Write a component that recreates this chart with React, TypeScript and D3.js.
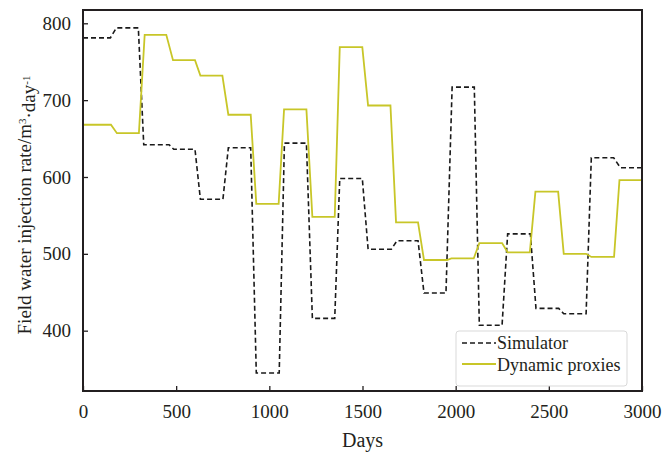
import React, { useEffect, useRef } from "react";
import * as d3 from "d3";

// simulator (dashed black)
const simDays = [0, 147, 179, 297, 326, 462, 487, 601, 630, 751, 780, 900, 930, 1053, 1081, 1199, 1231, 1351, 1378, 1499, 1530, 1655, 1685, 1798, 1830, 1948, 1981, 2100, 2127, 2249, 2279, 2401, 2431, 2553, 2580, 2700, 2728, 2848, 2884, 3000];
const simRate = [781, 781, 794, 794, 642, 642, 636, 636, 571, 571, 638, 638, 345, 345, 644, 644, 416, 416, 598, 598, 506, 506, 517, 517, 449, 449, 717, 717, 407, 407, 526, 526, 429, 429, 422, 422, 625, 625, 612, 612];

// dynamic proxies (yellow solid)
const proxyDays = [0, 150, 182, 300, 331, 447, 483, 601, 630, 748, 780, 900, 930, 1050, 1079, 1199, 1231, 1351, 1378, 1499, 1530, 1650, 1680, 1798, 1830, 1954, 1977, 2097, 2127, 2249, 2279, 2398, 2428, 2550, 2580, 2700, 2728, 2850, 2879, 3000];
const proxyRate = [668, 668, 657, 657, 785, 785, 752, 752, 732, 732, 681, 681, 565, 565, 688, 688, 548, 548, 769, 769, 693, 693, 541, 541, 492, 492, 494, 494, 514, 514, 502, 502, 581, 581, 500, 500, 496, 496, 596, 596];

const xTicks = [0, 500, 1000, 1500, 2000, 2500, 3000];
const yTicks = [400, 500, 600, 700, 800];

const App = () => {
  const chart = useRef<SVGSVGElement>(null);

  useEffect(() => {
    const svg = d3.select(chart.current);
    svg.selectAll("*").remove();

    const left = 83, right = 642, top = 10, bottom = 391;
    const axisColor = "#231f20";
    const font = "'Liberation Serif', 'Times New Roman', serif";

    const x = d3.scaleLinear().domain([0, 3000]).range([left, right]);
    const y = d3.scaleLinear().domain([321.5, 817.3]).range([bottom, top]);

    const line = d3
      .line<[number, number]>()
      .x((d) => x(d[0]))
      .y((d) => y(d[1]));

    const sim = simDays.map((d, i) => [d, simRate[i]] as [number, number]);
    const proxy = proxyDays.map((d, i) => [d, proxyRate[i]] as [number, number]);

    svg
      .append("path")
      .attr("d", line(sim))
      .attr("fill", "none")
      .attr("stroke", "#1a1a1a")
      .attr("stroke-width", 1.6)
      .attr("stroke-dasharray", "5,3");

    svg
      .append("path")
      .attr("d", line(proxy))
      .attr("fill", "none")
      .attr("stroke", "#c8c628")
      .attr("stroke-width", 1.8);

    // axes, ticks pointing inward
    const fmt = d3.format("d");
    const xAxis = d3.axisBottom(x).tickValues(xTicks).tickFormat(fmt).tickSizeInner(-5).tickSizeOuter(0).tickPadding(14);
    const yAxis = d3.axisLeft(y).tickValues(yTicks).tickFormat(fmt).tickSizeInner(-5).tickSizeOuter(0).tickPadding(12);

    const gx = svg.append("g").attr("transform", `translate(0, ${bottom})`).call(xAxis);
    const gy = svg.append("g").attr("transform", `translate(${left}, 0)`).call(yAxis);
    [gx, gy].forEach((g) => {
      g.select(".domain").remove();
      g.selectAll("line").attr("stroke", axisColor).attr("stroke-width", 1.3);
      g.selectAll("text")
        .attr("fill", axisColor)
        .style("font-family", font)
        .style("font-size", "19px");
    });
    gx.selectAll("text").attr("dy", "0.71em");

    // frame
    svg
      .append("rect")
      .attr("x", left)
      .attr("y", top)
      .attr("width", right - left)
      .attr("height", bottom - top)
      .attr("fill", "none")
      .attr("stroke", axisColor)
      .attr("stroke-width", 2);

    // axis titles
    svg
      .append("text")
      .attr("x", (left + right) / 2)
      .attr("y", 447)
      .attr("text-anchor", "middle")
      .attr("fill", axisColor)
      .style("font-family", font)
      .style("font-size", "20px")
      .text("Days");

    const yl = svg
      .append("text")
      .attr("transform", `translate(31, 205) rotate(-90)`)
      .attr("text-anchor", "middle")
      .attr("fill", axisColor)
      .style("font-family", font)
      .style("font-size", "19px");
    yl.append("tspan").text("Field water injection rate/m");
    yl.append("tspan").attr("dy", "-0.5em").style("font-size", "11px").text("3");
    yl.append("tspan").attr("dy", "0.5em").text("·day");
    yl.append("tspan").attr("dy", "-0.5em").style("font-size", "11px").text("-1");

    // legend
    const lg = svg.append("g");
    lg.append("rect")
      .attr("x", 456)
      .attr("y", 331)
      .attr("width", 171)
      .attr("height", 55)
      .attr("rx", 3)
      .attr("fill", "#fff")
      .attr("stroke", "#d9d9d9");
    lg.append("line")
      .attr("x1", 462).attr("x2", 496).attr("y1", 343).attr("y2", 343)
      .attr("stroke", "#1a1a1a").attr("stroke-width", 1.6).attr("stroke-dasharray", "5,3");
    lg.append("line")
      .attr("x1", 462).attr("x2", 496).attr("y1", 364).attr("y2", 364)
      .attr("stroke", "#c8c628").attr("stroke-width", 1.8);
    lg.append("text").attr("x", 497).attr("y", 349).text("Simulator");
    lg.append("text").attr("x", 497).attr("y", 371).text("Dynamic proxies");
    lg.selectAll("text")
      .attr("fill", axisColor)
      .style("font-family", font)
      .style("font-size", "18px");
  }, []);

  return (
    <svg
      ref={chart}
      width={670}
      height={454}
      style={{ position: "absolute", left: 0, top: 0, background: "#fff" }}
    ></svg>
  );
};

export default App;
